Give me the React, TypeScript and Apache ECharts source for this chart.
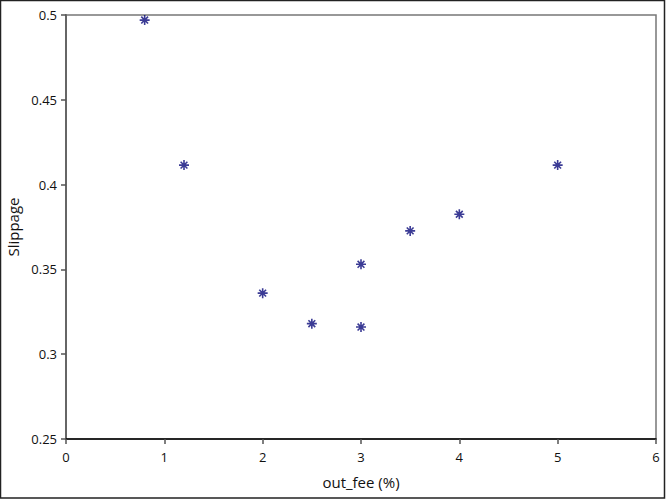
import React, { useEffect, useRef } from "react";
import * as echarts from "echarts";

const outFee = [0.8, 1.2, 2, 2.5, 3, 3, 3.5, 4, 5];
const slippage = [0.497, 0.4115, 0.336, 0.318, 0.353, 0.316, 0.3727, 0.3825, 0.4115];

const asterisk =
  "path://M0 5 L10 5 M5 0 L5 10 M1.6 1.6 L8.4 8.4 M8.4 1.6 L1.6 8.4";

export default function App() {
  const ref = useRef<HTMLDivElement>(null);
  useEffect(() => {
    document.body.style.margin = "0";
    const chart = echarts.init(ref.current!, null, { renderer: "svg" });
    const font = "'Open Sans', 'Noto Sans', sans-serif";
    chart.setOption({
      animation: false,
      backgroundColor: "#fff",
      textStyle: { fontFamily: font },
      graphic: [
        {
          type: "rect",
          shape: { x: 0.5, y: 0.5, width: 664, height: 497.5 },
          style: { fill: "none", stroke: "#222", lineWidth: 1.5 },
          silent: true,
        },
      ],
      grid: {
        left: 66,
        top: 15,
        right: 10,
        bottom: 61,
        show: true,
        containLabel: false,
        outerBoundsMode: "none",
        borderColor: "#777",
        borderWidth: 1.5,
        backgroundColor: "transparent",
      },
      xAxis: {
        type: "value",
        min: 0,
        max: 6,
        interval: 1,
        name: "out_fee (%)",
        nameLocation: "middle",
        nameGap: 35,
        nameTextStyle: { fontSize: 15, color: "#111", fontFamily: font },
        axisLine: { show: true, onZero: false, lineStyle: { color: "#000", width: 1.5 } },
        axisTick: { show: true, length: 5, lineStyle: { color: "#555", width: 1.5 } },
        axisLabel: { fontSize: 13, color: "#111", margin: 11, fontFamily: font },
        splitLine: { show: false },
      },
      yAxis: {
        type: "value",
        min: 0.25,
        max: 0.5,
        interval: 0.05,
        name: "Slippage",
        nameLocation: "middle",
        nameGap: 44,
        nameTextStyle: { fontSize: 15, color: "#111", fontFamily: font },
        axisLine: { show: true, onZero: false, lineStyle: { color: "#666", width: 2 } },
        axisTick: { show: true, length: 5, lineStyle: { color: "#555", width: 1.5 } },
        axisLabel: { fontSize: 13, color: "#111", margin: 9, fontFamily: font },
        splitLine: { show: false },
      },
      series: [
        {
          type: "scatter",
          data: outFee.map((x, i) => [x, slippage[i]]),
          symbol: asterisk,
          symbolSize: 10,
          itemStyle: {
            color: "rgba(0,0,0,0)",
            borderColor: "#0a0a7a",
            borderWidth: 1.6,
          },
        },
      ],
    });
    return () => chart.dispose();
  }, []);
  return <div ref={ref} style={{ width: 666, height: 500 }} />;
}
